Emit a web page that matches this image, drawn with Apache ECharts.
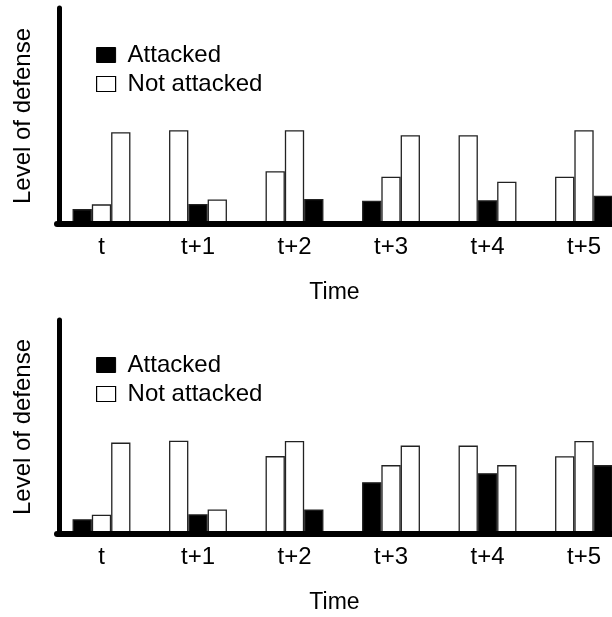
<!DOCTYPE html>
<html>
<head>
<meta charset="utf-8">
<script src="https://cdn.jsdelivr.net/npm/echarts@6/dist/echarts.min.js"></script>
<style>
html,body{margin:0;padding:0;background:#fff;}
#chart{width:612px;height:617px;}
</style>
</head>
<body>
<div id="chart"></div>
<script>
// ---- data ----
var categories = ['t', 't+1', 't+2', 't+3', 't+4', 't+5'];
// index (0,1,2) of the attacked plant in each time group
var attackedPos = [0, 1, 2, 0, 1, 2];
// top panel: level of defense of plant at positions 1..3
var topPlant1 = [6.9, 43.4, 24.4, 10.8, 41.1, 21.9];
var topPlant2 = [9.1, 9.3, 43.4, 21.9, 11.0, 43.4];
var topPlant3 = [42.5, 11.4, 11.6, 41.1, 19.6, 13.1];
// bottom panel
var botPlant1 = [6.9, 43.6, 36.4, 24.2, 41.3, 36.3];
var botPlant2 = [9.0, 9.2, 43.5, 32.2, 28.4, 43.5];
var botPlant3 = [42.7, 11.5, 11.5, 41.3, 32.2, 32.2];
var legendNames = ['Attacked', 'Not attacked'];
var yAxisTitle = 'Level of defense';
var xAxisTitle = 'Time';

var FONT = '"Liberation Sans", Arial, Helvetica, sans-serif';

function barSeries(values, pos, gridIdx) {
  return {
    type: 'bar',
    xAxisIndex: gridIdx,
    yAxisIndex: gridIdx,
    barWidth: 19.3,
    barGap: '0%',
    z: 2,
    data: values.map(function (v, i) {
      var att = attackedPos[i] === pos;
      return {
        value: [i, v],
        itemStyle: {
          color: att ? '#000' : '#fff',
          borderColor: '#222',
          borderWidth: 1.3
        }
      };
    })
  };
}

function xAxisCfg(gridIdx) {
  return {
    type: 'value',
    gridIndex: gridIdx,
    min: -0.461,
    max: 5.29,
    z: 5,
    splitLine: { show: false },
    axisTick: { show: false },
    axisLine: { show: true, onZero: false, lineStyle: { color: '#000', width: 6 } },
    axisLabel: {
      customValues: [0, 1, 2, 3, 4, 5],
      formatter: function (v) { return categories[Math.round(v)]; },
      color: '#000', fontSize: 24, fontFamily: FONT, margin: 11
    },
    name: xAxisTitle,
    nameLocation: 'middle',
    nameGap: 57,
    nameTextStyle: { color: '#000', fontSize: 23, fontFamily: FONT }
  };
}

function yAxisCfg(gridIdx) {
  return {
    type: 'value',
    gridIndex: gridIdx,
    min: 0,
    max: 100,
    offset: -2.7,
    z: 5,
    splitLine: { show: false },
    axisTick: { show: false },
    axisLabel: { show: false },
    axisLine: { show: true, onZero: false, lineStyle: { color: '#000', width: 5 } },
    name: yAxisTitle,
    nameLocation: 'middle',
    nameGap: 24,
    nameRotate: 90,
    nameTextStyle: { color: '#000', fontSize: 24, fontFamily: FONT }
  };
}

function legendCfg(top) {
  return {
    orient: 'vertical',
    left: 91,
    top: top,
    itemWidth: 19,
    itemHeight: 15,
    itemGap: 5,
    selectedMode: false,
    textStyle: { color: '#000', fontSize: 24, fontFamily: FONT, padding: [0, 0, 0, 7] },
    data: [
      { name: legendNames[0], icon: 'rect', itemStyle: { color: '#000', opacity: 1, borderColor: '#000', borderWidth: 1 } },
      { name: legendNames[1], icon: 'rect', itemStyle: { color: '#fff', opacity: 1, borderColor: '#000', borderWidth: 1.2 } }
    ]
  };
}

var chart = echarts.init(document.getElementById('chart'), null, { renderer: 'canvas' });
chart.setOption({
  animation: false,
  backgroundColor: '#fff',
  grid: [
    { left: 57, right: 0, top: 8, height: 216 },
    { left: 57, right: 0, top: 320, height: 214 }
  ],
  xAxis: [xAxisCfg(0), xAxisCfg(1)],
  yAxis: [yAxisCfg(0), yAxisCfg(1)],
  legend: [legendCfg(38), legendCfg(348)],
  series: [
    barSeries(topPlant1, 0, 0),
    barSeries(topPlant2, 1, 0),
    barSeries(topPlant3, 2, 0),
    barSeries(botPlant1, 0, 1),
    barSeries(botPlant2, 1, 1),
    barSeries(botPlant3, 2, 1),
    { type: 'scatter', name: legendNames[0], data: [], itemStyle: { opacity: 1 } },
    { type: 'scatter', name: legendNames[1], data: [], itemStyle: { opacity: 1 } }
  ]
});
</script>
</body>
</html>
